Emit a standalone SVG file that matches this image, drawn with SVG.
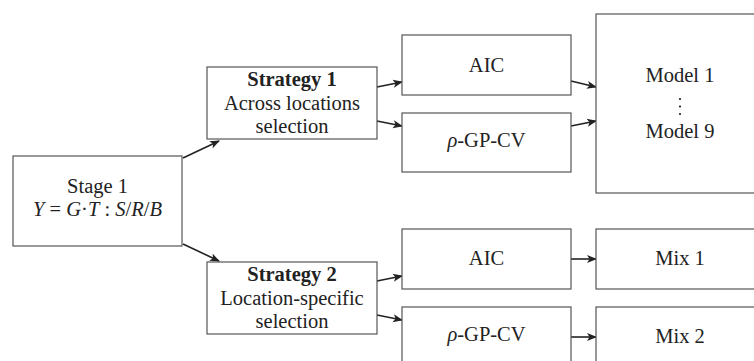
<svg xmlns="http://www.w3.org/2000/svg" width="754" height="361" viewBox="0 0 754 361">
<defs>
<style>
.box{fill:#fff;stroke:#555;stroke-width:1.2}
.t{font-family:'Liberation Serif','DejaVu Serif',serif;font-size:20.5px;fill:#222;text-anchor:middle}
.b{font-weight:bold}
.i{font-style:italic}
.edge{stroke:#222;stroke-width:1.6;fill:none;marker-end:url(#arr)}
</style>
<marker id="arr" viewBox="0 0 10 10" refX="9" refY="5" markerWidth="10" markerHeight="10" markerUnits="userSpaceOnUse" orient="auto">
<path d="M0,1 L10,5 L0,9 L2.5,5 Z" fill="#222"/>
</marker>
</defs>
<rect width="754" height="361" fill="#fff"/>
<g id="connectors">
<line class="edge" x1="183" y1="158" x2="219" y2="141"/>
<line class="edge" x1="183" y1="244" x2="219" y2="261"/>
<line class="edge" x1="377" y1="87" x2="402" y2="82"/>
<line class="edge" x1="377" y1="121" x2="402" y2="126"/>
<line class="edge" x1="377" y1="281" x2="402" y2="276"/>
<line class="edge" x1="377" y1="315" x2="402" y2="320"/>
<line class="edge" x1="571" y1="81" x2="596" y2="87"/>
<line class="edge" x1="571" y1="126" x2="596" y2="121"/>
<line class="edge" x1="571" y1="259" x2="596" y2="259"/>
<line class="edge" x1="571" y1="337" x2="596" y2="337"/>
</g>
<g id="stage1">
<rect class="box" x="13" y="156" width="169" height="90"/>
<text class="t" x="97.5" y="193">Stage 1</text>
<text class="t" x="97.5" y="216"><tspan class="i">Y</tspan> = <tspan class="i">G</tspan>·<tspan class="i">T</tspan> : <tspan class="i">S</tspan>/<tspan class="i">R</tspan>/<tspan class="i">B</tspan></text>
</g>
<g id="strategy1">
<rect class="box" x="207" y="67" width="170" height="72"/>
<text class="t b" x="292" y="86">Strategy 1</text>
<text class="t" x="292" y="110">Across locations</text>
<text class="t" x="292" y="133">selection</text>
</g>
<g id="strategy2">
<rect class="box" x="207" y="262" width="170" height="72"/>
<text class="t b" x="292" y="281">Strategy 2</text>
<text class="t" x="292" y="305">Location-specific</text>
<text class="t" x="292" y="328">selection</text>
</g>
<g id="aic1">
<rect class="box" x="402" y="35" width="169" height="60"/>
<text class="t" x="486.5" y="72">AIC</text>
</g>
<g id="gpcv1">
<rect class="box" x="402" y="113" width="169" height="59"/>
<text class="t" x="486.5" y="147"><tspan class="i">ρ</tspan>-GP-CV</text>
</g>
<g id="models">
<rect class="box" x="596" y="14" width="168" height="179"/>
<text class="t" x="680" y="82">Model 1</text>
<circle cx="680" cy="99" r="1.1" fill="#222"/>
<circle cx="680" cy="106.5" r="1.1" fill="#222"/>
<circle cx="680" cy="114" r="1.1" fill="#222"/>
<text class="t" x="680" y="138">Model 9</text>
</g>
<g id="aic2">
<rect class="box" x="402" y="229" width="169" height="60"/>
<text class="t" x="486.5" y="265">AIC</text>
</g>
<g id="gpcv2">
<rect class="box" x="402" y="307" width="169" height="60"/>
<text class="t" x="486.5" y="341"><tspan class="i">ρ</tspan>-GP-CV</text>
</g>
<g id="mix1">
<rect class="box" x="596" y="229" width="168" height="60"/>
<text class="t" x="680" y="265">Mix 1</text>
</g>
<g id="mix2">
<rect class="box" x="596" y="307" width="168" height="60"/>
<text class="t" x="680" y="343">Mix 2</text>
</g>
</svg>
